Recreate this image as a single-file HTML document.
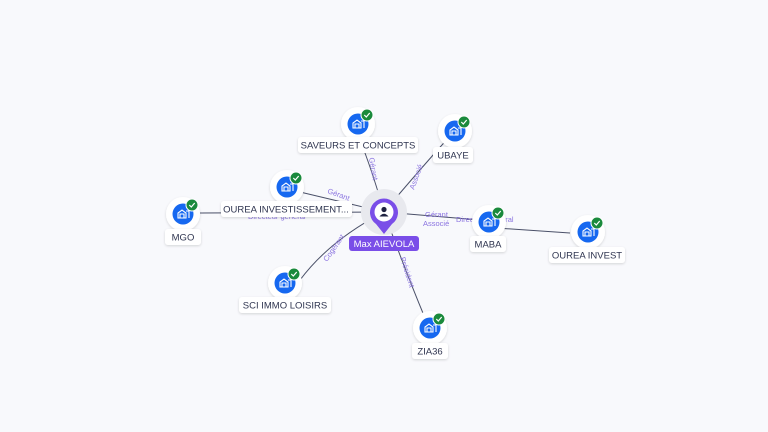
<!DOCTYPE html>
<html><head><meta charset="utf-8"><style>
html,body{margin:0;padding:0;background:#f8f9fc;}
svg{display:block;font-family:"Liberation Sans",sans-serif;}
.lb{font-size:9.5px;fill:#2f3550;}
.el{font-size:7.5px;fill:#8a73e0;}
</style></head><body>
<svg width="768" height="432" viewBox="0 0 768 432">
<defs>
<filter id="sh" x="-50%" y="-50%" width="200%" height="200%"><feDropShadow dx="0" dy="1" stdDeviation="1.2" flood-color="#000" flood-opacity="0.15"/></filter>
<g id="node">
<circle r="17" fill="#fff" filter="url(#sh)"/>
<circle r="10.5" fill="#1668f0"/>
<path d="M-5 4 V-1 L-1 -4 L3 -1 V4 Z M1 4 V0 H-3 V4 M3 -3 H6 V4" fill="none" stroke="#fff" stroke-width="1.1"/>
<circle cx="9" cy="-9" r="6" fill="#1a8a3c" stroke="#fff" stroke-width="1"/>
<path d="M6.3 -9 L8.3 -7 L11.7 -11" fill="none" stroke="#fff" stroke-width="1.2"/>
</g>
</defs>
<g stroke="#4a5068" stroke-width="1" fill="none">
<path d="M384 212 Q372 170 360 140"/>
<path d="M384 212 Q415 175 450 136"/>
<path d="M384 212 L300 192"/>
<path d="M384 212 L200 213"/>
<path d="M384 212 L480 220"/>
<path d="M496 228 L570 233"/>
<path d="M384 212 Q330 240 300 280"/>
<path d="M384 212 Q405 270 425 318"/>
</g>
<text class="el" transform="translate(369,158) rotate(80)">Gérant</text>
<text class="el" transform="translate(414,190) rotate(-70)">Associé</text>
<text class="el" transform="translate(327,193) rotate(20)">Gérant</text>
<text class="el" x="248" y="219">Directeur général</text>
<text class="el" x="425" y="217">Gérant</text>
<text class="el" x="423" y="226">Associé</text>
<text class="el" x="456" y="222">Directeur général</text>
<text class="el" transform="translate(327,262) rotate(-55)">Cogérant</text>
<text class="el" transform="translate(400,258) rotate(72)">Président</text>
<circle cx="384" cy="212" r="23" fill="#e8e9ee"/>
<path d="M384 234 L376 224 A14 14 0 1 1 392 224 Z" fill="#7a4ee8"/>
<circle cx="384" cy="212" r="9.5" fill="#fff"/>
<circle cx="384" cy="209.5" r="2.6" fill="#1e2240"/>
<path d="M379.5 216.5 Q384 211 388.5 216.5 Z" fill="#1e2240"/>
<rect x="349" y="236" width="70" height="15" rx="3" fill="#7a4ee8"/>
<text x="384" y="247" text-anchor="middle" font-size="9.5" fill="#fff">Max AIEVOLA</text>
<use href="#node" x="358" y="124"/>
<rect x="298" y="137" width="120" height="16" rx="3" fill="#fff" filter="url(#sh)"/>
<text class="lb" x="358" y="148.5" text-anchor="middle">SAVEURS ET CONCEPTS</text>
<use href="#node" x="455" y="131"/>
<rect x="433" y="147" width="40" height="16" rx="3" fill="#fff" filter="url(#sh)"/>
<text class="lb" x="453" y="158.5" text-anchor="middle">UBAYE</text>
<use href="#node" x="287" y="187"/>
<rect x="221" y="201" width="131" height="16" rx="3" fill="#fff" filter="url(#sh)"/>
<text class="lb" x="286" y="212.5" text-anchor="middle">OUREA INVESTISSEMENT...</text>
<use href="#node" x="183" y="214"/>
<rect x="165" y="229" width="36" height="16" rx="3" fill="#fff" filter="url(#sh)"/>
<text class="lb" x="183" y="240.5" text-anchor="middle">MGO</text>
<use href="#node" x="489" y="222"/>
<rect x="470" y="236" width="36" height="16" rx="3" fill="#fff" filter="url(#sh)"/>
<text class="lb" x="488" y="247.5" text-anchor="middle">MABA</text>
<use href="#node" x="588" y="232"/>
<rect x="549" y="247" width="76" height="16" rx="3" fill="#fff" filter="url(#sh)"/>
<text class="lb" x="587" y="258.5" text-anchor="middle">OUREA INVEST</text>
<use href="#node" x="285" y="283"/>
<rect x="239" y="297" width="92" height="16" rx="3" fill="#fff" filter="url(#sh)"/>
<text class="lb" x="285" y="308.5" text-anchor="middle">SCI IMMO LOISIRS</text>
<use href="#node" x="430" y="328"/>
<rect x="412" y="343" width="36" height="16" rx="3" fill="#fff" filter="url(#sh)"/>
<text class="lb" x="430" y="354.5" text-anchor="middle">ZIA36</text>
</svg>
</body></html>
